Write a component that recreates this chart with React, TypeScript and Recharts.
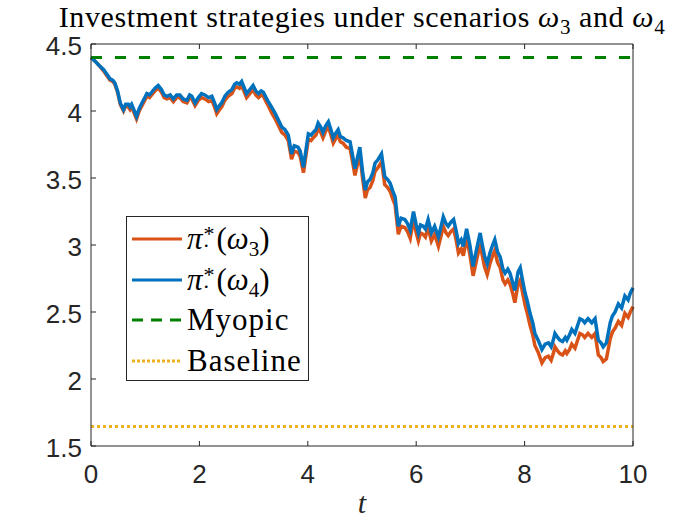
import { LineChart, Line, XAxis, YAxis, ReferenceLine } from "recharts"

// sample times t
const tValues = [
  0, 0.08, 0.15, 0.23, 0.30, 0.35, 0.40, 0.44, 0.49, 0.54,
  0.60, 0.64, 0.69, 0.72, 0.75, 0.80, 0.84, 0.89, 0.94, 0.98,
  1.03, 1.08, 1.12, 1.18, 1.24, 1.30, 1.35, 1.40, 1.46, 1.52,
  1.58, 1.64, 1.70, 1.77, 1.82, 1.86, 1.92, 1.98, 2.04, 2.10,
  2.17, 2.23, 2.28, 2.32, 2.37, 2.41, 2.47, 2.53, 2.60, 2.65,
  2.69, 2.74, 2.78, 2.83, 2.87, 2.93, 2.99, 3.04, 3.09, 3.14,
  3.18, 3.23, 3.27, 3.33, 3.40, 3.46, 3.52, 3.58, 3.64, 3.70,
  3.75, 3.82, 3.86, 3.92, 3.97, 4.01, 4.06, 4.10, 4.15, 4.19,
  4.24, 4.28, 4.33, 4.38, 4.42, 4.47, 4.51, 4.56, 4.60, 4.65,
  4.71, 4.78, 4.83, 4.87, 4.92, 4.96, 5.01, 5.06, 5.10, 5.15,
  5.20, 5.24, 5.30, 5.36, 5.42, 5.47, 5.52, 5.57, 5.61, 5.67,
  5.72, 5.79, 5.84, 5.89, 5.95, 6.00, 6.04, 6.08, 6.13, 6.17,
  6.22, 6.28, 6.34, 6.41, 6.46, 6.50, 6.55, 6.59, 6.64, 6.69,
  6.74, 6.78, 6.83, 6.87, 6.93, 6.99, 7.05, 7.11, 7.18, 7.22,
  7.26, 7.31, 7.36, 7.41, 7.45, 7.50, 7.55, 7.60, 7.64, 7.69,
  7.73, 7.78, 7.82, 7.88, 7.92, 7.97, 8.01, 8.05, 8.10, 8.15,
  8.19, 8.25, 8.32, 8.38, 8.44, 8.49, 8.53, 8.56, 8.61, 8.65,
  8.70, 8.75, 8.78, 8.83, 8.87, 8.93, 8.97, 9.02, 9.07, 9.11,
  9.17, 9.24, 9.30, 9.36, 9.41, 9.45, 9.51, 9.58, 9.62, 9.67,
  9.73, 9.79, 9.85, 9.91, 9.95, 10,
]

// pi*(omega_3)
const omega3 = [
  4.40, 4.37, 4.34, 4.30, 4.26, 4.23, 4.22, 4.20, 4.14, 4.05,
  4.00, 4.04, 4.03, 4.01, 4.03, 3.98, 3.94, 4.00, 4.04, 4.07,
  4.11, 4.10, 4.12, 4.15, 4.17, 4.14, 4.10, 4.09, 4.10, 4.07,
  4.10, 4.10, 4.07, 4.06, 4.10, 4.09, 4.04, 4.08, 4.10, 4.09,
  4.07, 4.08, 4.03, 3.98, 4.01, 4.03, 4.08, 4.11, 4.13, 4.17,
  4.18, 4.17, 4.19, 4.14, 4.10, 4.13, 4.16, 4.12, 4.10, 4.12,
  4.11, 4.07, 4.04, 3.99, 3.94, 3.89, 3.84, 3.82, 3.78, 3.64,
  3.70, 3.69, 3.66, 3.54, 3.68, 3.79, 3.78, 3.80, 3.82, 3.87,
  3.84, 3.80, 3.85, 3.88, 3.83, 3.76, 3.79, 3.82, 3.77, 3.76,
  3.73, 3.72, 3.61, 3.52, 3.61, 3.68, 3.50, 3.35, 3.41, 3.43,
  3.48, 3.55, 3.58, 3.62, 3.45, 3.43, 3.40, 3.34, 3.30, 3.08,
  3.14, 3.13, 3.10, 3.05, 3.19, 3.09, 3.03, 3.09, 3.08, 3.06,
  3.13, 3.03, 3.08, 2.99, 3.07, 3.14, 3.09, 3.07, 3.10, 3.12,
  3.03, 2.94, 2.97, 2.92, 3.05, 2.93, 2.77, 2.88, 3.01, 2.92,
  2.84, 2.78, 2.86, 2.92, 2.96, 2.87, 2.83, 2.74, 2.71, 2.74,
  2.71, 2.64, 2.57, 2.71, 2.74, 2.63, 2.55, 2.49, 2.40, 2.33,
  2.25, 2.20, 2.12, 2.16, 2.17, 2.14, 2.19, 2.24, 2.21, 2.19,
  2.18, 2.21, 2.19, 2.22, 2.26, 2.23, 2.28, 2.34, 2.33, 2.31,
  2.34, 2.31, 2.34, 2.18, 2.16, 2.13, 2.15, 2.30, 2.35, 2.38,
  2.43, 2.40, 2.49, 2.46, 2.50, 2.54,
]

// pi*(omega_4)
const omega4 = [
  4.40, 4.37, 4.34, 4.31, 4.27, 4.24, 4.23, 4.21, 4.15, 4.06,
  4.01, 4.05, 4.05, 4.03, 4.05, 4.00, 3.96, 4.02, 4.06, 4.09,
  4.13, 4.12, 4.14, 4.17, 4.19, 4.16, 4.12, 4.11, 4.12, 4.09,
  4.12, 4.12, 4.09, 4.08, 4.12, 4.11, 4.06, 4.10, 4.13, 4.12,
  4.10, 4.11, 4.06, 4.01, 4.04, 4.06, 4.11, 4.14, 4.16, 4.20,
  4.21, 4.20, 4.22, 4.17, 4.13, 4.16, 4.19, 4.15, 4.13, 4.15,
  4.14, 4.10, 4.07, 4.03, 3.98, 3.93, 3.88, 3.86, 3.82, 3.68,
  3.74, 3.73, 3.70, 3.58, 3.72, 3.83, 3.82, 3.84, 3.86, 3.91,
  3.88, 3.84, 3.89, 3.92, 3.87, 3.80, 3.83, 3.86, 3.81, 3.80,
  3.78, 3.77, 3.66, 3.57, 3.66, 3.73, 3.55, 3.41, 3.47, 3.49,
  3.54, 3.61, 3.64, 3.68, 3.51, 3.49, 3.46, 3.40, 3.36, 3.14,
  3.20, 3.19, 3.16, 3.11, 3.25, 3.15, 3.09, 3.15, 3.14, 3.12,
  3.19, 3.09, 3.14, 3.06, 3.14, 3.21, 3.16, 3.14, 3.17, 3.19,
  3.10, 3.01, 3.04, 2.99, 3.12, 3.00, 2.84, 2.96, 3.09, 3.00,
  2.92, 2.86, 2.94, 3.00, 3.04, 2.95, 2.91, 2.82, 2.79, 2.82,
  2.79, 2.72, 2.66, 2.80, 2.83, 2.72, 2.64, 2.58, 2.49, 2.42,
  2.34, 2.29, 2.22, 2.26, 2.27, 2.24, 2.29, 2.34, 2.31, 2.29,
  2.28, 2.31, 2.29, 2.33, 2.37, 2.34, 2.39, 2.45, 2.44, 2.42,
  2.45, 2.42, 2.45, 2.29, 2.27, 2.24, 2.27, 2.42, 2.47, 2.50,
  2.56, 2.53, 2.62, 2.59, 2.64, 2.68,
]

const myopicLevel = 4.4
const baselineLevel = 1.645

const xTicks = [0, 2, 4, 6, 8, 10]
const yTicks = [1.5, 2, 2.5, 3, 3.5, 4, 4.5]

const data = tValues.map((t, i) => ({ t, w3: omega3[i], w4: omega4[i] }))

const C_ORANGE = "#D95319"
const C_BLUE = "#0072BD"
const C_GREEN = "#008000"
const C_YELLOW = "#EDB120"
const AXIS = "#262626"
const SANS = "'Liberation Sans', Arial, sans-serif"
const SERIF = "'Liberation Serif', 'Times New Roman', serif"

const LeftTick = (p: any) => (
  <g>
    <line x1={p.x} x2={p.x + 5} y1={p.y} y2={p.y} stroke={AXIS} />
    <text x={p.x - 9} y={p.y + 11} textAnchor="end" fontSize={26} fill={AXIS} fontFamily={SANS}>
      {p.payload.value}
    </text>
  </g>
)
const BottomTick = (p: any) => (
  <g>
    <line x1={p.x} x2={p.x} y1={p.y} y2={p.y - 5} stroke={AXIS} />
    <text x={p.x} y={p.y + 37} textAnchor="middle" fontSize={26} fill={AXIS} fontFamily={SANS}>
      {p.payload.value}
    </text>
  </g>
)
const RightTick = (p: any) => <line x1={p.x} x2={p.x - 5} y1={p.y} y2={p.y} stroke={AXIS} />
const TopTick = (p: any) => <line x1={p.x} x2={p.x} y1={p.y} y2={p.y + 5} stroke={AXIS} />

const Pi = ({ sub }: { sub: string }) => (
  <span>
    <i>π</i>
    <span style={{ position: "relative", display: "inline-block", width: 14, height: 20 }}>
      <span style={{ position: "absolute", left: 1, top: -6, fontSize: 22, lineHeight: "22px" }}>*</span>
      <span style={{ position: "absolute", left: 1, top: 0, fontSize: 22, lineHeight: "22px" }}>.</span>
    </span>
    (<i>ω</i>
    <sub style={{ fontSize: 21, lineHeight: 0 }}>{sub}</sub>)
  </span>
)

const legendRows = [
  { key: "w3", label: <Pi sub="3" />, color: C_ORANGE, dash: undefined },
  { key: "w4", label: <Pi sub="4" />, color: C_BLUE, dash: undefined },
  { key: "my", label: "Myopic", color: C_GREEN, dash: "11 8" },
  { key: "bl", label: "Baseline", color: C_YELLOW, dash: "3 2" },
]

const ChartLegend = () => (
  <div
    style={{
      position: "absolute",
      left: 126,
      top: 216,
      width: 181,
      height: 163,
      border: `1px solid ${AXIS}`,
      background: "#fff",
      fontFamily: SERIF,
      fontSize: 31,
      color: "#000",
    }}
  >
    {legendRows.map((r, i) => (
      <div
        key={r.key}
        style={{ position: "absolute", left: 5, top: 2 + i * 40.5, height: 40, display: "flex", alignItems: "center" }}
      >
        <svg width={52} height={10} style={{ marginRight: 3 }}>
          <line x1={0} x2={50} y1={5} y2={5} stroke={r.color} strokeWidth={3} strokeDasharray={r.dash} />
        </svg>
        <span style={{ whiteSpace: "nowrap", lineHeight: "40px", letterSpacing: typeof r.label === "string" ? 1 : 0 }}>
          {r.label}
        </span>
      </div>
    ))}
  </div>
)

export default function App() {
  return (
    <div style={{ position: "absolute", left: 0, top: 0, width: 700, height: 525, background: "#fff" }}>
      <LineChart width={700} height={525} data={data} margin={{ top: 0, right: 0, bottom: 0, left: 0 }}>
        <XAxis
          dataKey="t"
          type="number"
          domain={[0, 10]}
          ticks={xTicks}
          height={79}
          tickSize={0}
          tickMargin={0}
          tickLine={false}
          tick={BottomTick}
          axisLine={{ stroke: AXIS }}
          label={{ value: "t", position: "insideBottom", offset: 12, style: { fontFamily: SERIF, fontStyle: "italic", fontSize: 30, fill: AXIS } }}
        />
        <XAxis
          xAxisId="top"
          orientation="top"
          dataKey="t"
          type="number"
          domain={[0, 10]}
          ticks={xTicks}
          height={44}
          tickSize={0}
          tickMargin={0}
          tickLine={false}
          tick={TopTick}
          axisLine={{ stroke: AXIS }}
        />
        <YAxis
          type="number"
          domain={[1.5, 4.5]}
          ticks={yTicks}
          width={91}
          tickSize={0}
          tickMargin={0}
          tickLine={false}
          tick={LeftTick}
          axisLine={{ stroke: AXIS }}
        />
        <YAxis
          yAxisId="right"
          orientation="right"
          type="number"
          domain={[1.5, 4.5]}
          ticks={yTicks}
          width={67}
          tickSize={0}
          tickMargin={0}
          tickLine={false}
          tick={RightTick}
          axisLine={{ stroke: AXIS }}
        />
        <Line dataKey="w3" stroke={C_ORANGE} strokeWidth={3.5} dot={false} isAnimationActive={false} />
        <Line dataKey="w4" stroke={C_BLUE} strokeWidth={3.5} dot={false} isAnimationActive={false} />
        <ReferenceLine y={myopicLevel} stroke={C_GREEN} strokeWidth={3} strokeDasharray="11 13" />
        <ReferenceLine y={baselineLevel} stroke={C_YELLOW} strokeWidth={3} strokeDasharray="3 3" />
      </LineChart>
      <div
        style={{
          position: "absolute",
          left: 0,
          top: 2,
          width: 724,
          textAlign: "center",
          fontFamily: SERIF,
          fontSize: 30,
          lineHeight: "30px",
          letterSpacing: 0.6,
          color: "#000",
          whiteSpace: "nowrap",
        }}
      >
        Investment strategies under scenarios <i>ω</i>
        <sub style={{ fontSize: 21, lineHeight: 0 }}>3</sub> and <i>ω</i>
        <sub style={{ fontSize: 21, lineHeight: 0 }}>4</sub>
      </div>
      <ChartLegend />
    </div>
  )
}
